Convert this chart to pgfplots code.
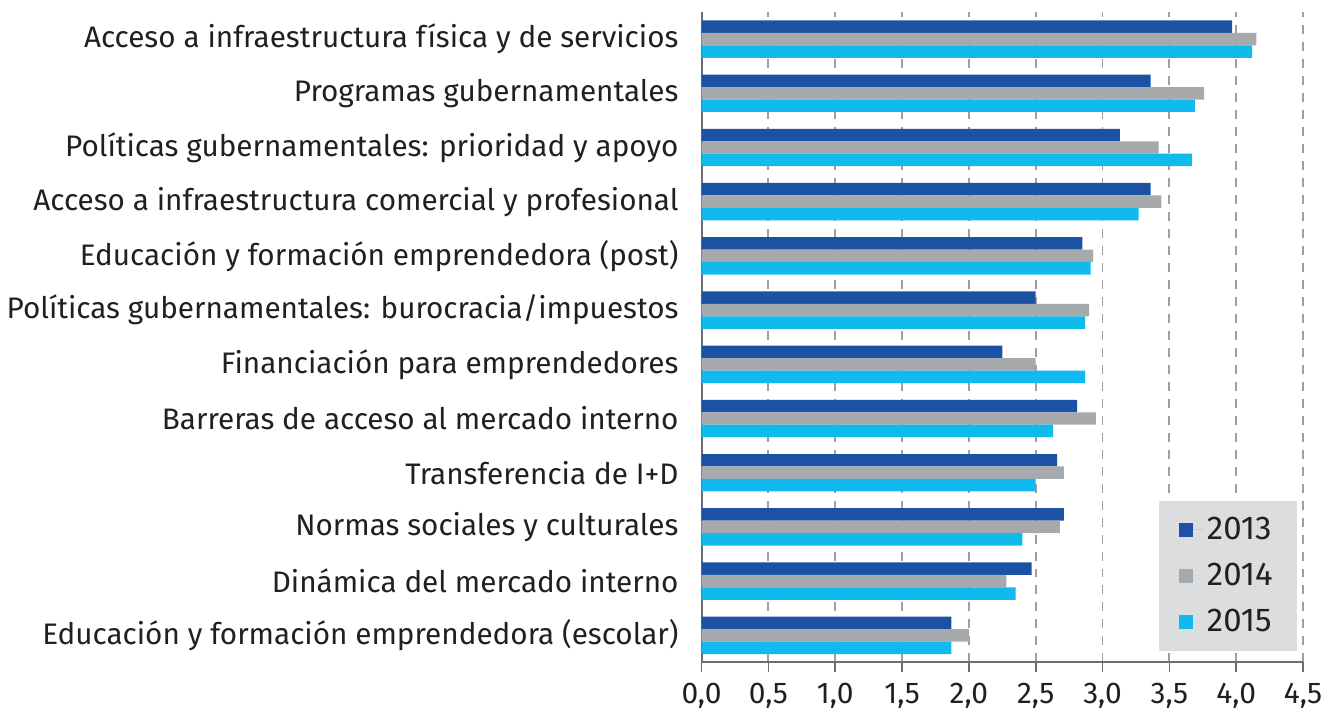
\documentclass[border=0pt]{standalone}
\usepackage{fontspec}
\setmainfont{Fira Sans}
\usepackage{pgfplots}
\usepackage{pgfplotstable}
\pgfplotsset{compat=1.18}
\definecolor{c13}{HTML}{1B52A4}
\definecolor{c14}{HTML}{A7AAAD}
\definecolor{c15}{HTML}{10B9EE}
\definecolor{txt}{HTML}{231F20}
\definecolor{axc}{HTML}{6D6E71}
\definecolor{gridc}{HTML}{9D9FA2}
\definecolor{legbg}{HTML}{DCDDDE}

\pgfplotstableread{
y v13 v14 v15
11 3.97 4.15 4.12
10 3.36 3.76 3.69
9 3.13 3.42 3.67
8 3.36 3.44 3.27
7 2.85 2.93 2.91
6 2.50 2.90 2.87
5 2.25 2.50 2.87
4 2.81 2.95 2.63
3 2.66 2.71 2.50
2 2.71 2.68 2.40
1 2.47 2.28 2.35
0 1.87 2.00 1.87
}\data

\begin{document}
\begin{tikzpicture}
\path (-350.5pt,-24pt) rectangle (321.5pt,331.5pt);
\begin{axis}[
  at={(0,0)}, anchor=south west,
  scale only axis, width=301pt, height=325.5pt,
  xmin=0, xmax=4.5, ymin=-0.5, ymax=11.5,
  xbar, bar width=0.23,
  axis x line*=bottom, axis y line*=left,
  axis line style={axc, line width=1pt, -},
  xtick={0,0.5,1,1.5,2,2.5,3,3.5,4,4.5},
  ytick={0,1,2,3,4,5,6,7,8,9,10,11},
  yticklabels={
    Educación y formación emprendedora (escolar),
    Dinámica del mercado interno,
    Normas sociales y culturales,
    Transferencia de I+D,
    Barreras de acceso al mercado interno,
    Financiación para emprendedores,
    Políticas gubernamentales: burocracia/impuestos,
    Educación y formación emprendedora (post),
    Acceso a infraestructura comercial y profesional,
    Políticas gubernamentales: prioridad y apoyo,
    Programas gubernamentales,
    Acceso a infraestructura física y de servicios},
  yticklabel style={font=\fontsize{14.85}{17}\selectfont, text=txt, xshift=-3pt},
  xticklabel style={font=\fontsize{15}{17}\selectfont, text=txt, yshift=-2pt},
  /pgf/number format/.cd, assume math mode=true, use comma, fixed, fixed zerofill, precision=1, /pgfplots/.cd,
  major tick length=5pt, tick align=outside,
  xtick style={axc, line width=0.8pt},
  ytick style={draw=none},
  xmajorgrids,
  major grid style={gridc, line width=0.9pt, dash pattern=on 4.5pt off 4pt},
  legend cell align=left,
  legend image code/.code={\path (0pt,0pt) -- (12pt,0pt); \path[#1] (0pt,-3.5pt) rectangle (7pt,3.5pt);},
  legend style={at={(rel axis cs:0.99,0.017)}, anchor=south east, fill=legbg, draw=none,
    font=\fontsize{16.5}{18}\selectfont, text=txt, row sep=6.5pt, inner xsep=10pt, inner ysep=6pt},
]
\addplot[fill=c13, draw=none, bar shift=0.23] table[x=v13, y=y] {\data};
\addplot[fill=c14, draw=none, bar shift=0] table[x=v14, y=y] {\data};
\addplot[fill=c15, draw=none, bar shift=-0.23] table[x=v15, y=y] {\data};
\legend{2013,2014,2015}
\end{axis}
\end{tikzpicture}
\end{document}
